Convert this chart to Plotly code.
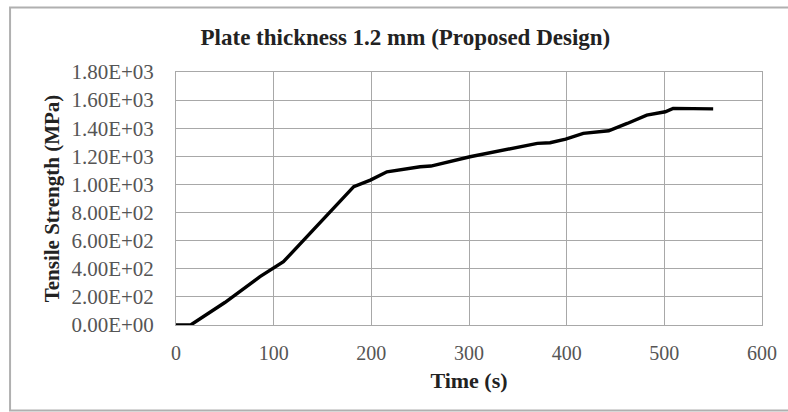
import plotly.graph_objects as go

time_s = [0, 15, 50, 86, 110, 145, 182, 199, 216, 250, 261, 301, 340, 370, 383, 399, 417, 443, 462, 482, 501, 509, 550]
strength = [0, 0, 160, 344, 450, 710, 984, 1031, 1090, 1126, 1131, 1197, 1250, 1292, 1297, 1323, 1363, 1382, 1434, 1493, 1517, 1541, 1538]

y_tickvals = [0, 200, 400, 600, 800, 1000, 1200, 1400, 1600, 1800]
y_ticktext = ["0.00E+00", "2.00E+02", "4.00E+02", "6.00E+02", "8.00E+02",
              "1.00E+03", "1.20E+03", "1.40E+03", "1.60E+03", "1.80E+03"]
x_tickvals = [0, 100, 200, 300, 400, 500, 600]

W, H = 788, 412
L, R, T, B = 175.5, 26.3, 72, 87
pw, ph = W - L - R, H - T - B

def px2paper_x(px):
    return (px - L) / pw

def py2paper_y(py):
    return (H - B - py) / ph

fig = go.Figure()
fig.add_trace(go.Scatter(x=time_s, y=strength, mode="lines",
                         line=dict(color="black", width=3.4), showlegend=False))

serif = "Liberation Serif, Times New Roman, serif"
fig.update_layout(
    width=W, height=H,
    margin=dict(l=L, r=R, t=T, b=B),
    paper_bgcolor="white", plot_bgcolor="white",
    font=dict(family=serif, color="#404040"),
    title=dict(text="<b>Plate thickness 1.2 mm (Proposed Design)</b>",
               x=px2paper_x(405), xref="paper", xanchor="center",
               y=1 - 37 / H, yanchor="middle",
               font=dict(size=23, color="#222222", family=serif)),
    xaxis=dict(range=[0, 600], tickvals=x_tickvals, showgrid=True,
               gridcolor="#a8a8a8", gridwidth=1, zeroline=False,
               showline=True, linecolor="#a8a8a8", mirror=True,
               ticks="", ticklabelstandoff=10,
               tickfont=dict(size=20, color="#555555"),
               title=dict(text="<b>Time (s)</b>", standoff=9,
                          font=dict(size=22, color="#222222"))),
    yaxis=dict(range=[0, 1800], tickvals=y_tickvals, ticktext=y_ticktext,
               showgrid=True, gridcolor="#a8a8a8", gridwidth=1, zeroline=False,
               showline=True, linecolor="#a8a8a8", mirror=True,
               ticks="", ticklabelstandoff=17,
               tickfont=dict(size=21, color="#555555"),
               title=dict(text="<b>Tensile Strength (MPa)</b>", standoff=6,
                          font=dict(size=21, color="#222222"))),
)

# outer frame of the embedded figure
fig.add_shape(type="rect", xref="paper", yref="paper",
              x0=px2paper_x(9.5), x1=px2paper_x(800), y0=py2paper_y(410.5), y1=py2paper_y(7.5),
              line=dict(color="#b0b0b0", width=2), fillcolor="rgba(0,0,0,0)", layer="below")

fig.write_html("out.html")
